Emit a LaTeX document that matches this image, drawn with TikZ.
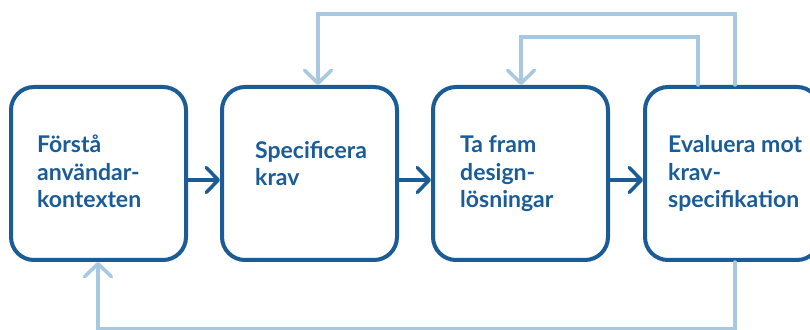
\documentclass[tikz,border=0pt]{standalone}
\usepackage{fontspec}
\setmainfont{Lato}
\usetikzlibrary{arrows.meta}
\definecolor{deepblue}{HTML}{1B5C97}
\definecolor{paleblue}{HTML}{A6C8E1}
\tikzset{
  stage/.style={draw=deepblue, line width=4pt, rounded corners=23pt, fill=white,
    minimum width=175pt, minimum height=173pt, inner sep=0pt},
  label/.style={text=deepblue, font=\fontsize{23}{27.5}\selectfont\bfseries,
    align=left, inner sep=0pt, anchor=base west},
  flow/.style={draw=deepblue, line width=3.5pt,
    -{Straight Barb[length=12pt, width=25pt, round]}},
  loop/.style={draw=paleblue, line width=3.5pt, line cap=round,
    -{Straight Barb[length=13pt, width=27pt, round]}},
}
\begin{document}
\begin{tikzpicture}[x=1pt, y=1pt]
  \clip (0,0) rectangle (810,329);
  \fill[white] (0,0) rectangle (810,329);

  % the four stages of the cycle
  \node[stage] (s1) at (98.5,155.5) {};
  \node[stage] (s2) at (309.5,155.5) {};
  \node[stage] (s3) at (520.5,155.5) {};
  \node[stage] (s4) at (732.5,155.5) {};

  % labels, placed by the baseline of their last line
  \node[label] (t1) at (37,121) {Förstå\\användar-\\kontexten};
  \node[label] (t2) at (255,143) {Specificera\\krav};
  \node[label] (t3) at (460,121) {Ta fram\\design-\\lösningar};
  \node[label] (t4) at (668,121) {Evaluera mot\\krav-\\specifikation};

  % forward arrows
  \coordinate (fy) at (0,149);
  \draw[flow] (s1.east |- fy) -- (s2.west |- fy);
  \draw[flow] (s2.east |- fy) -- (s3.west |- fy);
  \draw[flow] (s3.east |- fy) -- (s4.west |- fy);

  % feedback loops
  \coordinate (oa) at (735,0);
  \coordinate (ia) at (698,0);
  \coordinate (ob) at (318,0);
  \coordinate (ib) at (521,0);
  \coordinate (bb) at (98,0);
  \draw[loop] (s4.north -| oa) -- (735,315) -- (318,315) -- (s2.north -| ob);
  \draw[loop] (s4.north -| ia) -- (698,292) -- (521,292) -- (s3.north -| ib);
  \draw[loop] (s4.south -| oa) -- (735,0.3) -- (98,0.3) -- (s1.south -| bb);
\end{tikzpicture}
\end{document}
